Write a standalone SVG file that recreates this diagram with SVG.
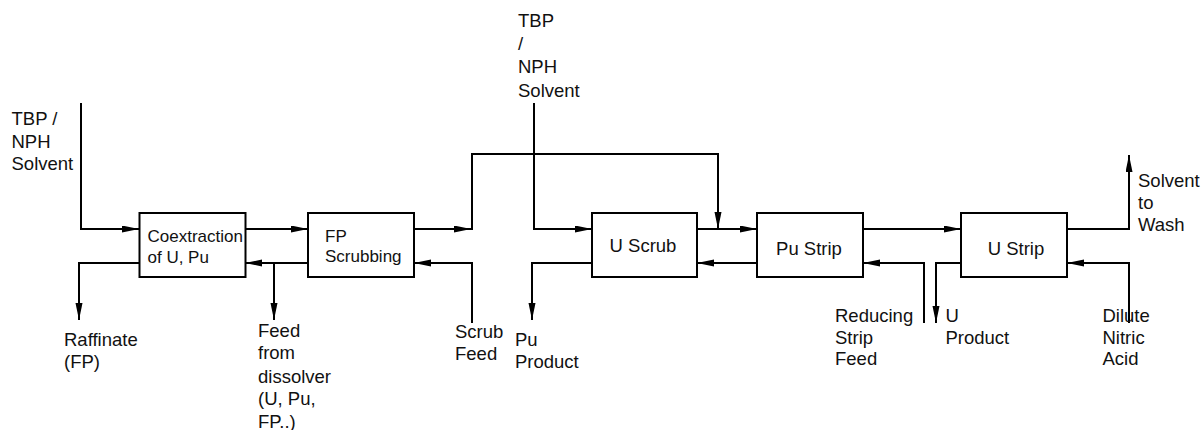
<svg xmlns="http://www.w3.org/2000/svg" width="1204" height="430" viewBox="0 0 1204 430">
<style>
.box{fill:#fff;stroke:#000;stroke-width:2}
.c{fill:none;stroke:#000;stroke-width:2}
.a{marker-end:url(#ah)}
text{font-family:"Liberation Sans",Arial,sans-serif;font-size:18.5px;fill:#111}
.bt{font-size:17px}
.mid{text-anchor:middle}
</style>
<defs>
<marker id="ah" markerUnits="userSpaceOnUse" markerWidth="18" markerHeight="8" refX="17" refY="3.5" orient="auto">
<path d="M0,0 L17,3.5 L0,7 z" fill="#000"/>
</marker>
</defs>
<rect width="1204" height="430" fill="#fff"/>
<g id="connectors">
<path class="c a" d="M81,103 V229 H139"/>
<path class="c a" d="M245,229 H308"/>
<path class="c a" d="M308,263 H245"/>
<path class="c a" d="M274,263 V320"/>
<path class="c a" d="M139,263 H79 V320"/>
<path class="c a" d="M414,229 H471"/>
<path class="c a" d="M472,230 V154 H718 V229"/>
<path class="c a" d="M472,323 V263 H414"/>
<path class="c a" d="M534,103 V229 H592"/>
<path class="c a" d="M592,263 H532 V320"/>
<path class="c a" d="M697,229 H757"/>
<path class="c a" d="M757,263 H697"/>
<path class="c a" d="M863,229 H961"/>
<path class="c a" d="M924,323 V263 H863"/>
<path class="c a" d="M961,263 H936 V323"/>
<path class="c a" d="M1067,229 H1129 V155"/>
<path class="c a" d="M1129,323 V263 H1067"/>
</g>
<g id="coextraction">
<rect class="box" x="139.5" y="213" width="106" height="64"/>
<text class="bt" x="147.5" y="241.5">Coextraction</text>
<text class="bt" x="147.5" y="262.5">of U, Pu</text>
</g>
<g id="fp-scrubbing">
<rect class="box" x="308" y="213" width="106" height="64"/>
<text class="bt" x="325" y="241.5">FP</text>
<text class="bt" x="325" y="262">Scrubbing</text>
</g>
<g id="u-scrub">
<rect class="box" x="592" y="213" width="105" height="64"/>
<text class="mid" x="643" y="252">U Scrub</text>
</g>
<g id="pu-strip">
<rect class="box" x="757" y="213" width="106" height="64"/>
<text class="mid" x="809" y="255">Pu Strip</text>
</g>
<g id="u-strip">
<rect class="box" x="961" y="213" width="106" height="64"/>
<text class="mid" x="1016" y="255">U Strip</text>
</g>
<g id="labels">
<text x="11.5" y="125">TBP /</text>
<text x="11.5" y="148">NPH</text>
<text x="11.5" y="170">Solvent</text>
<text x="518" y="27">TBP</text>
<text x="518" y="50">/</text>
<text x="518" y="73">NPH</text>
<text x="518" y="96.5">Solvent</text>
<text x="64" y="346">Raffinate</text>
<text x="64" y="368">(FP)</text>
<text x="258" y="336.5">Feed</text>
<text x="258" y="359">from</text>
<text x="258" y="382.5">dissolver</text>
<text x="258" y="405">(U, Pu,</text>
<text x="258" y="428">FP..)</text>
<text x="455" y="338">Scrub</text>
<text x="455" y="360">Feed</text>
<text x="515" y="345.5">Pu</text>
<text x="515" y="368">Product</text>
<text x="835" y="321.5">Reducing</text>
<text x="835" y="343.5">Strip</text>
<text x="835" y="365">Feed</text>
<text x="945.5" y="321.5">U</text>
<text x="945.5" y="343.5">Product</text>
<text x="1102.5" y="321.5">Dilute</text>
<text x="1102.5" y="343.5">Nitric</text>
<text x="1102.5" y="365">Acid</text>
<text x="1138" y="186.5">Solvent</text>
<text x="1138" y="208.5">to</text>
<text x="1138" y="230.5">Wash</text>
</g>
</svg>
